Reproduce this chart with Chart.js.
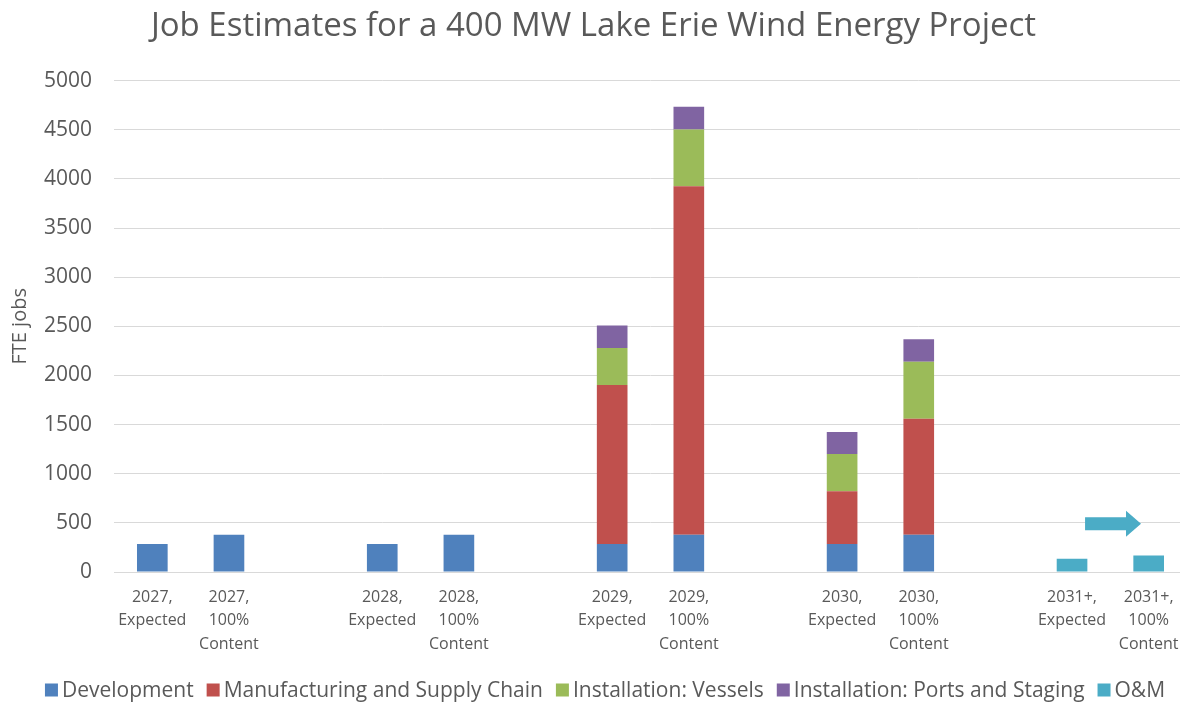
<!DOCTYPE html>
<html>
<head>
<meta charset="utf-8">
<script src="https://cdn.jsdelivr.net/npm/chart.js@4.4.1/dist/chart.umd.min.js"></script>
<style>
  html, body { margin: 0; padding: 0; background: #ffffff; overflow: hidden; }
  #wrap { position: relative; width: 1190px; height: 702px; }
</style>
</head>
<body>
<div id="wrap"><canvas id="chart"></canvas></div>
<script>
// Category labels (blank entries separate the years)
const categories = [
  ['2027,', 'Expected'], ['2027,', '100%', 'Content'], '',
  ['2028,', 'Expected'], ['2028,', '100%', 'Content'], '',
  ['2029,', 'Expected'], ['2029,', '100%', 'Content'], '',
  ['2030,', 'Expected'], ['2030,', '100%', 'Content'], '',
  ['2031+,', 'Expected'], ['2031+,', '100%', 'Content']
];

// FTE jobs by component
const development   = [285, 380, null, 285, 380, null, 285, 380, null, 285, 380, null, null, null];
const manufacturing = [null, null, null, null, null, null, 1618, 3544, null, 537, 1179, null, null, null];
const vessels       = [null, null, null, null, null, null, 377, 578, null, 378, 581, null, null, null];
const ports         = [null, null, null, null, null, null, 228, 231, null, 224, 228, null, null, null];
const oandm         = [null, null, null, null, null, null, null, null, null, null, null, null, 136, 167];

const seriesNames = ['Development', 'Manufacturing and Supply Chain', 'Installation: Vessels',
                     'Installation: Ports and Staging', 'O&M'];
const seriesColors = ['#4F81BD', '#C0504D', '#9BBB59', '#8064A2', '#4BACC6'];

// Y axis ticks
const yTicks = { min: 0, max: 5000, step: 500 };

// Ongoing O&M arrow: value level and category span
const arrowLevel = 490;
const arrowSpan = [12.17, 12.9];

const TEXT = '#595959';
const FONT = "'Open Sans', sans-serif";

const seriesData = [development, manufacturing, vessels, ports, oandm];

// Arrow showing O&M jobs continuing into later years
const arrowPlugin = {
  id: 'omArrow',
  afterDatasetsDraw(chart) {
    const { ctx, scales: { x, y } } = chart;
    const x0 = x.getPixelForValue(arrowSpan[0]);
    const x1 = x.getPixelForValue(arrowSpan[1]);
    const yc = y.getPixelForValue(arrowLevel);
    const shaft = 6.5, head = 13, headLen = 15;
    ctx.save();
    ctx.fillStyle = seriesColors[4];
    ctx.beginPath();
    ctx.moveTo(x0, yc - shaft);
    ctx.lineTo(x1 - headLen, yc - shaft);
    ctx.lineTo(x1 - headLen, yc - head);
    ctx.lineTo(x1, yc);
    ctx.lineTo(x1 - headLen, yc + head);
    ctx.lineTo(x1 - headLen, yc + shaft);
    ctx.lineTo(x0, yc + shaft);
    ctx.closePath();
    ctx.fill();
    ctx.restore();
  }
};

// Compact legend row under the axis labels
const legendPlugin = {
  id: 'rowLegend',
  afterDraw(chart) {
    const { ctx } = chart;
    const box = 13, gap = 4, spacing = 13;
    ctx.save();
    ctx.font = `21px ${FONT}`;
    ctx.textBaseline = 'middle';
    const widths = seriesNames.map(n => ctx.measureText(n).width);
    const total = widths.reduce((a, w) => a + box + gap + w, 0) + spacing * (seriesNames.length - 1);
    let cx = chart.width / 2 + 10 - total / 2;
    const cy = 690;
    seriesNames.forEach((name, i) => {
      ctx.fillStyle = seriesColors[i];
      ctx.fillRect(cx, cy - box / 2, box, box);
      ctx.fillStyle = TEXT;
      ctx.fillText(name, cx + box + gap, cy + 1);
      cx += box + gap + widths[i] + spacing;
    });
    ctx.restore();
  }
};

new Chart(document.getElementById('chart'), {
  type: 'bar',
  data: {
    labels: categories,
    datasets: seriesData.map((d, i) => ({
      label: seriesNames[i],
      data: d,
      backgroundColor: seriesColors[i],
      borderWidth: 0,
      barPercentage: 0.4,
      categoryPercentage: 1.0
    }))
  },
  options: {
    responsive: true,
    maintainAspectRatio: false,
    animation: false,
    layout: { padding: { left: 0, right: 3, top: 0, bottom: 40 } },
    plugins: {
      legend: { display: false },
      tooltip: { enabled: false },
      title: {
        display: true,
        text: 'Job Estimates for a 400 MW Lake Erie Wind Energy Project',
        color: TEXT,
        font: { family: FONT, size: 33, weight: 'normal', lineHeight: 1.2 },
        padding: { top: 7, bottom: 34 }
      }
    },
    scales: {
      x: {
        stacked: true,
        grid: { display: false },
        border: { color: '#D9D9D9' },
        ticks: {
          color: TEXT,
          font: { family: FONT, size: 16, lineHeight: 1.45 },
          maxRotation: 0,
          autoSkip: false,
          padding: 6
        },
        afterFit(scale) { scale.height = 90; }
      },
      y: {
        stacked: true,
        min: yTicks.min,
        max: yTicks.max,
        grid: { color: '#D9D9D9', lineWidth: 1, drawTicks: false },
        border: { display: false },
        ticks: {
          stepSize: yTicks.step,
          color: TEXT,
          font: { family: FONT, size: 21 },
          padding: 22,
          callback: (v) => String(v)
        },
        title: {
          display: true,
          text: 'FTE jobs',
          color: TEXT,
          font: { family: FONT, size: 20 },
          padding: { top: 8, bottom: 0 }
        },
        afterFit(scale) { scale.width = 114; }
      }
    }
  },
  plugins: [arrowPlugin, legendPlugin]
});
</script>
</body>
</html>
